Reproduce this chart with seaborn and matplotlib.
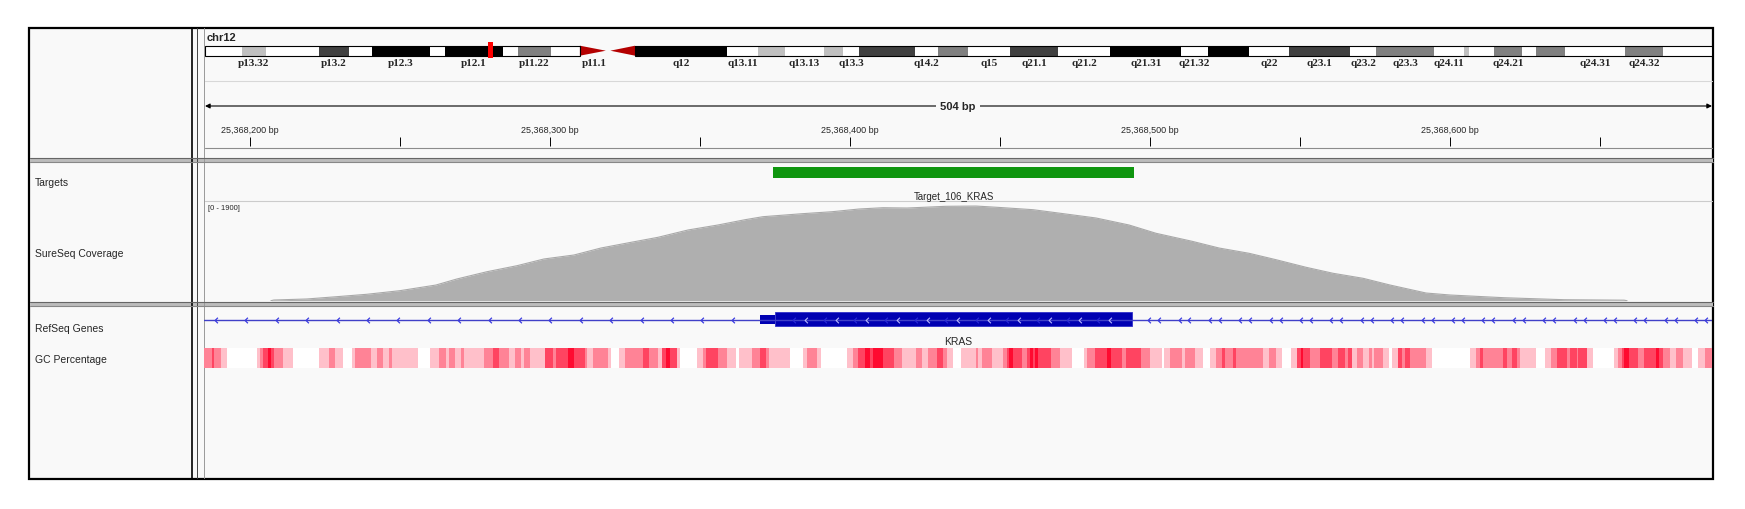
import numpy as np
import matplotlib
matplotlib.use('Agg')
import matplotlib.pyplot as plt
from matplotlib.patches import Rectangle, Polygon
from matplotlib.path import Path
from matplotlib.colors import ListedColormap
from matplotlib.ticker import MultipleLocator, FuncFormatter
import seaborn as sns

sns.set_style('white')
plt.rcParams['font.family'] = ['Liberation Sans', 'DejaVu Sans']

W, H = 1745, 510

# locus shown
chrom = 'chr12'
chrom_len = 133.85          # Mb
view_start = 25368184.7
view_end = 25368687.3
view_label = '504 bp'

# chr12 cytobands (Mb)
band_names = ['p13.33', 'p13.32', 'p13.31', 'p13.2', 'p13.1', 'p12.3', 'p12.2', 'p12.1',
              'p11.23', 'p11.22', 'p11.21', 'p11.1', 'q11', 'q12', 'q13.11', 'q13.12',
              'q13.13', 'q13.2', 'q13.3', 'q14.1', 'q14.2', 'q14.3', 'q15', 'q21.1',
              'q21.2', 'q21.31', 'q21.32', 'q21.33', 'q22', 'q23.1', 'q23.2', 'q23.3',
              'q24.11', 'q24.12', 'q24.13', 'q24.21', 'q24.22', 'q24.23', 'q24.31',
              'q24.32', 'q24.33']
band_starts = [0.0, 3.3, 5.4, 10.1, 12.8, 14.8, 20.0, 21.3, 26.5, 27.8, 30.7, 33.3, 35.8,
               38.2, 46.4, 49.1, 51.5, 55.0, 56.7, 58.1, 63.1, 65.1, 67.8, 71.5, 75.8,
               80.4, 86.7, 89.1, 92.7, 96.3, 101.7, 104.0, 109.2, 111.8, 112.3, 114.5,
               117.0, 118.2, 120.8, 126.1, 129.5]
band_ends = band_starts[1:] + [chrom_len]
band_stains = ['gneg', 'gpos25', 'gneg', 'gpos75', 'gneg', 'gpos100', 'gneg', 'gpos100',
               'gneg', 'gpos50', 'gneg', 'acen', 'acen', 'gpos100', 'gneg', 'gpos25',
               'gneg', 'gpos25', 'gneg', 'gpos75', 'gneg', 'gpos50', 'gneg', 'gpos75',
               'gneg', 'gpos100', 'gneg', 'gpos100', 'gneg', 'gpos75', 'gneg', 'gpos50',
               'gneg', 'gpos25', 'gneg', 'gpos50', 'gneg', 'gpos50', 'gneg', 'gpos50',
               'gneg']
shown_labels = ['p13.32', 'p13.2', 'p12.3', 'p12.1', 'p11.22', 'p11.1', 'q12', 'q13.11',
                'q13.13', 'q13.3', 'q14.2', 'q15', 'q21.1', 'q21.2', 'q21.31', 'q21.32',
                'q22', 'q23.1', 'q23.2', 'q23.3', 'q24.11', 'q24.21', 'q24.31', 'q24.32']
stain_colors = {'gneg': '#ffffff', 'gpos25': '#c0c0c0', 'gpos50': '#808080',
                'gpos75': '#404040', 'gpos100': '#000000'}

# Targets track
target_name = 'Target_106_KRAS'
target_start = 25368375
target_end = 25368494

# SureSeq coverage (bp, depth)
cov_max = 1900
cov_pos = [25368207, 25368208, 25368219, 25368229, 25368239, 25368250, 25368262,
           25368269, 25368279, 25368289, 25368298, 25368308, 25368317, 25368327,
           25368336, 25368346, 25368356, 25368365, 25368371, 25368384, 25368394,
           25368403, 25368411, 25368419, 25368432, 25368442, 25368449, 25368461,
           25368472, 25368482, 25368493, 25368502, 25368514, 25368523, 25368533,
           25368542, 25368552, 25368561, 25368571, 25368580, 25368592, 25368600,
           25368618, 25368638, 25368658, 25368659]
cov_val = [0, 13, 33, 77, 123, 192, 300, 416, 555, 670, 799, 875, 1009, 1118, 1214,
           1354, 1450, 1551, 1609, 1666, 1704, 1756, 1781, 1775, 1808, 1813, 1789, 1743,
           1660, 1584, 1450, 1291, 1138, 1009, 908, 785, 640, 525, 429, 300, 147, 109,
           57, 19, 10, 0]

# RefSeq gene (minus strand, spans the whole view)
gene_name = 'KRAS'
utr_start = 25368370
cds_start = 25368375
cds_end = 25368494

# GC percentage: segment starts (bp from view start) and shade level 0-4
gc_start = [0, 2.6, 3.3, 5.6, 7.6, 17.6, 18.7, 19.8, 21.4, 22.2, 23.3, 26.4, 29.6, 38.4,
            41.7, 43.7, 46.4, 49.2, 50.3, 55.6, 57.6, 59.6, 61.7, 62.6, 71.4, 75.3, 78.4,
            80.7, 81.8, 83.7, 85.6, 86.7, 93.3, 96.2, 98.3, 101.8, 103.7, 105.6, 106.7,
            108.7, 113.7, 116.2, 117.3, 121.4, 123.3,
            127, 127.8, 129.6, 134.8, 135.7, 138.4, 140.3, 146.2, 148.3, 151.4, 152.6,
            154, 155.3, 157.6, 158.7, 164.2, 166.2, 167.3, 171.2, 174.2, 177.3, 178.4,
            182.6, 185.3, 187.3, 188.4, 195.3, 199.6, 200.9, 204.4, 205.6, 214.2, 216.2,
            218.1, 220.3, 222, 223.1, 226.4, 230.1, 232.6, 237.3, 239.2, 241.2, 244.2,
            246.4, 247.6, 249.6, 252.3,
            257.3, 258.1, 259.2, 262.6, 266.4, 267.6, 268.4, 269.6, 272.6, 274.2, 275.3,
            276.2, 277, 278.1, 282.2, 285.3, 289.4, 293.3, 294.2, 297, 300.9, 302.2,
            305.9, 307.2, 312.3, 315.3, 319.2, 320, 322, 325.9, 327, 330.3, 333.1, 335.3,
            337.3, 339.2, 340.3, 343.1, 344, 353.1, 354.8, 357.3, 359.2, 362.3, 364.2,
            365.6, 366.4, 368.7, 372, 375.9, 378.1,
            380.3, 381.4, 382.6, 384.2, 386.2, 388.4, 389.2, 390.1, 393.1, 395.1, 395.9,
            398.1, 399.2, 400.3, 402, 407.3, 409.2, 422, 424, 425.3, 426.4, 433.1, 434.2,
            435.9, 437.6, 438.7, 444, 447, 448.9, 451.1, 454.2, 455.3, 457.6, 458.1,
            460.9, 462.9, 470, 471.4, 472.6, 473.3, 474.8, 478.1, 480, 484, 485.1, 486.2,
            488.7, 490.7, 492.9, 495.9, 498.1, 500.3]
gc_level = [2, 3, 2, 1, 0, 1, 2, 3, 4, 3, 2, 1, 0, 1, 2, 1, 0, 1, 2, 1, 2, 1, 2, 1, 0, 1, 2,
            1, 2, 1, 2, 1, 2, 3, 2, 1, 2, 1, 2, 1, 3, 2, 3, 4, 3,
            2, 1, 2, 1, 0, 1, 2, 3, 2, 1, 3, 4, 3, 1, 0, 1, 2, 3, 2, 1, 0, 1, 2, 3, 2, 1,
            0, 1, 2, 1, 0, 1, 2, 3, 4, 3, 4, 3, 2, 1, 2, 1, 2, 3, 2, 1, 0, 1,
            2, 1, 2, 1, 2, 3, 4, 3, 2, 3, 4, 3, 4, 3, 2, 1, 0, 1, 2, 3, 4, 3, 2, 3, 2, 1,
            0, 1, 2, 1, 2, 1, 0, 1, 2, 3, 2, 3, 2, 1, 2, 1, 0, 1, 3, 4, 3, 2, 3, 2, 3,
            2, 3, 1, 2, 1, 2, 1, 2, 1, 0, 1, 3, 2, 3, 2, 1, 0, 1, 2, 3, 2, 3, 2, 3, 2, 1,
            0, 1, 2, 3, 2, 3, 2, 3, 1, 0, 1, 2, 3, 4, 3, 2, 3, 4, 3, 2, 1, 2, 1, 0, 1, 2]
gc_colors = ['#ffffff', '#ffc0ca', '#ff8396', '#ff4461', '#ff0a30']


fig = plt.figure(figsize=(W / 100, H / 100), dpi=100)


def px_axes(x0, y0, x1, y1):
    # axes placed by pixel box (top-left origin)
    return fig.add_axes([x0 / W, 1 - y1 / H, (x1 - x0) / W, (y1 - y0) / H])


# ---- background, frames and panel names
bg = px_axes(0, 0, W, H)
bg.set_xlim(0, W)
bg.set_ylim(H, 0)
bg.axis('off')
bg.add_patch(Rectangle((30, 29), 1683, 450, fc='#f9f9f9', ec='none'))
bg.add_patch(Rectangle((29.5, 28.5), 1684, 451, fill=False, ec='black', lw=1.6))
bg.plot([192, 192], [29, 479], color='black', lw=1.2)
bg.plot([197, 197], [29, 479], color='#444444', lw=0.7)
bg.plot([204, 204], [29, 479], color='#9a9a9a', lw=0.7)
for d in (158.5, 302.5):
    bg.add_patch(Rectangle((30, d), 1683, 4, fc='#bcbcbc', ec='none'))
    bg.plot([30, 1713], [d, d], color='#666666', lw=0.8)
    bg.plot([30, 1713], [d + 4, d + 4], color='#888888', lw=0.8)
bg.plot([205, 1712], [81.7, 81.7], color='#d8d8d8', lw=0.8)
bg.plot([205, 1712], [149, 149], color='#8c8c8c', lw=0.8)
bg.plot([205, 1712], [202, 202], color='#cccccc', lw=0.8)

bg.text(207, 38, chrom, fontsize=8, fontweight='bold', va='center')
for name, y in [('Targets', 182.7), ('SureSeq Coverage', 254), ('RefSeq Genes', 329.3),
                ('GC Percentage', 360)]:
    bg.text(35, y, name, fontsize=7.5, va='center')
bg.text(208, 209, f'[0 - {cov_max}]', fontsize=5.5, va='center')

# ruler arrow with span label
bg.annotate('', xy=(1712, 107), xytext=(205, 107),
            arrowprops=dict(arrowstyle='<|-|>', color='black', lw=0.8,
                            mutation_scale=7, shrinkA=0, shrinkB=0))
bg.text(958, 107, view_label, fontsize=8, fontweight='bold', ha='center', va='center',
        bbox=dict(fc='#f9f9f9', ec='none', pad=3))

# ---- ideogram
ideo = px_axes(205, 40, 1712, 64)
ideo.set_xlim(0, chrom_len)
ideo.set_ylim(64, 40)
ideo.axis('off')
for nm, s, e, st in zip(band_names, band_starts, band_ends, band_stains):
    if st == 'acen':
        continue
    ideo.bar(s, 10, width=e - s, bottom=46.7, align='edge', color=stain_colors[st],
             lw=0)
p_end = band_starts[band_names.index('p11.1')]
q_beg = band_ends[band_names.index('q11')]
cen = band_ends[band_names.index('p11.1')]
ideo.add_patch(Polygon([(p_end, 46.7), (p_end, 56.7), (cen - 0.2, 51.7)],
                       closed=True, fc='#b40000', ec='none'))
ideo.add_patch(Polygon([(q_beg, 46.7), (q_beg, 56.7), (cen + 0.2, 51.7)],
                       closed=True, fc='#b40000', ec='none'))
ideo.add_patch(Rectangle((0, 46.7), p_end, 10, fill=False, ec='black', lw=0.8))
ideo.add_patch(Rectangle((q_beg, 46.7), chrom_len - q_beg, 10, fill=False, ec='black',
                         lw=0.8))
view_mid_mb = (view_start + view_end) / 2 / 1e6
ideo.bar(view_mid_mb, 15.7, width=0.4, bottom=43.3, color='#ff0000', lw=0)
for nm, s, e in zip(band_names, band_starts, band_ends):
    if nm in shown_labels:
        ideo.text((s + e) / 2, 63.3, nm, ha='center', va='center', fontsize=8,
                  fontweight='bold', family=['Liberation Serif', 'DejaVu Serif'],
                  clip_on=False)

# ---- ruler ticks
rul = px_axes(204, 138, 1712, 147)
rul.set_xlim(view_start, view_end)
rul.set_yticks([])
for sp in rul.spines.values():
    sp.set_visible(False)
rul.patch.set_alpha(0)
rul.xaxis.tick_top()
rul.xaxis.set_major_locator(MultipleLocator(100))
rul.xaxis.set_minor_locator(MultipleLocator(50))
rul.xaxis.set_major_formatter(FuncFormatter(lambda v, p: f'{int(round(v)):,} bp'))
rul.tick_params(axis='x', which='both', direction='in', length=6.5, width=0.7,
                color='black', labelsize=6.5, pad=2.5)

# ---- tracks drawn in genomic x, pixel y
trk = px_axes(204, 28, 1712, 480)
trk.set_xlim(view_start, view_end)
trk.set_ylim(480, 28)
trk.axis('off')

trk.bar(target_start - 0.5, 10.7, width=target_end - target_start + 1, bottom=168.3,
        align='edge', color='#0f960f', lw=0)
trk.text((target_start + target_end) / 2, 196.7, target_name, fontsize=7, ha='center',
         va='center')

gene_blue = '#0000b2'
trk.plot([view_start, view_end], [320.7, 320.7], color='#4040c8', lw=1.0)
trk.bar(utr_start, 9, width=cds_start - utr_start, bottom=316, align='edge',
        color=gene_blue, lw=0)
trk.bar(cds_start, 14, width=cds_end - cds_start, bottom=313, align='edge',
        color=gene_blue, ec='#3030c8', lw=0.6)

chev = Path([(0.5, 1), (-0.5, 0), (0.5, -1)], [Path.MOVETO, Path.LINETO, Path.LINETO])
step = 10.13
left = np.arange(view_start + 4, utr_start - 2, step)
right = np.arange(cds_end + 5.7, view_end, step)
for xs in (left, right, right + 3.3):
    trk.plot(xs, np.full(len(xs), 320.7), ls='none', marker=chev, ms=4, mfc='none',
             mec='#3a3ae0', mew=0.9)
ex_light = np.arange(cds_start + 10.5, cds_end - 2, step)
trk.plot(ex_light, np.full(len(ex_light), 320.7), ls='none', marker=chev, ms=4,
         mfc='none', mec='#b8b8ff', mew=0.8)
trk.plot(ex_light - 4, np.full(len(ex_light), 320.7), ls='none', marker=chev, ms=4,
         mfc='none', mec='#2a2ad8', mew=0.8)
trk.text((view_start + view_end) / 2, 342.3, gene_name, fontsize=7.5, ha='center',
         va='center')

# ---- coverage
cov = px_axes(204, 202.5, 1712, 301.7)
cov.fill_between(cov_pos, cov_val, 0, color='#afafaf', lw=0)
sns.lineplot(x=cov_pos, y=cov_val, ax=cov, color='#a9a9a9', lw=0.8)
cov.set_xlim(view_start, view_end)
cov.set_ylim(0, cov_max)
cov.axis('off')

# ---- GC percentage strip
span = view_end - view_start
cols = np.arange(0.05, span, 0.1)
idx = np.searchsorted(np.array(gc_start), cols, side='right') - 1
gc_row = np.array(gc_level)[idx][None, :]
gc = px_axes(204, 349, 1712, 369)
sns.heatmap(gc_row, ax=gc, cmap=ListedColormap(gc_colors), vmin=-0.5, vmax=4.5,
            cbar=False, xticklabels=False, yticklabels=False, rasterized=True)
gc.axis('off')

fig.savefig('out.png', dpi=100)
